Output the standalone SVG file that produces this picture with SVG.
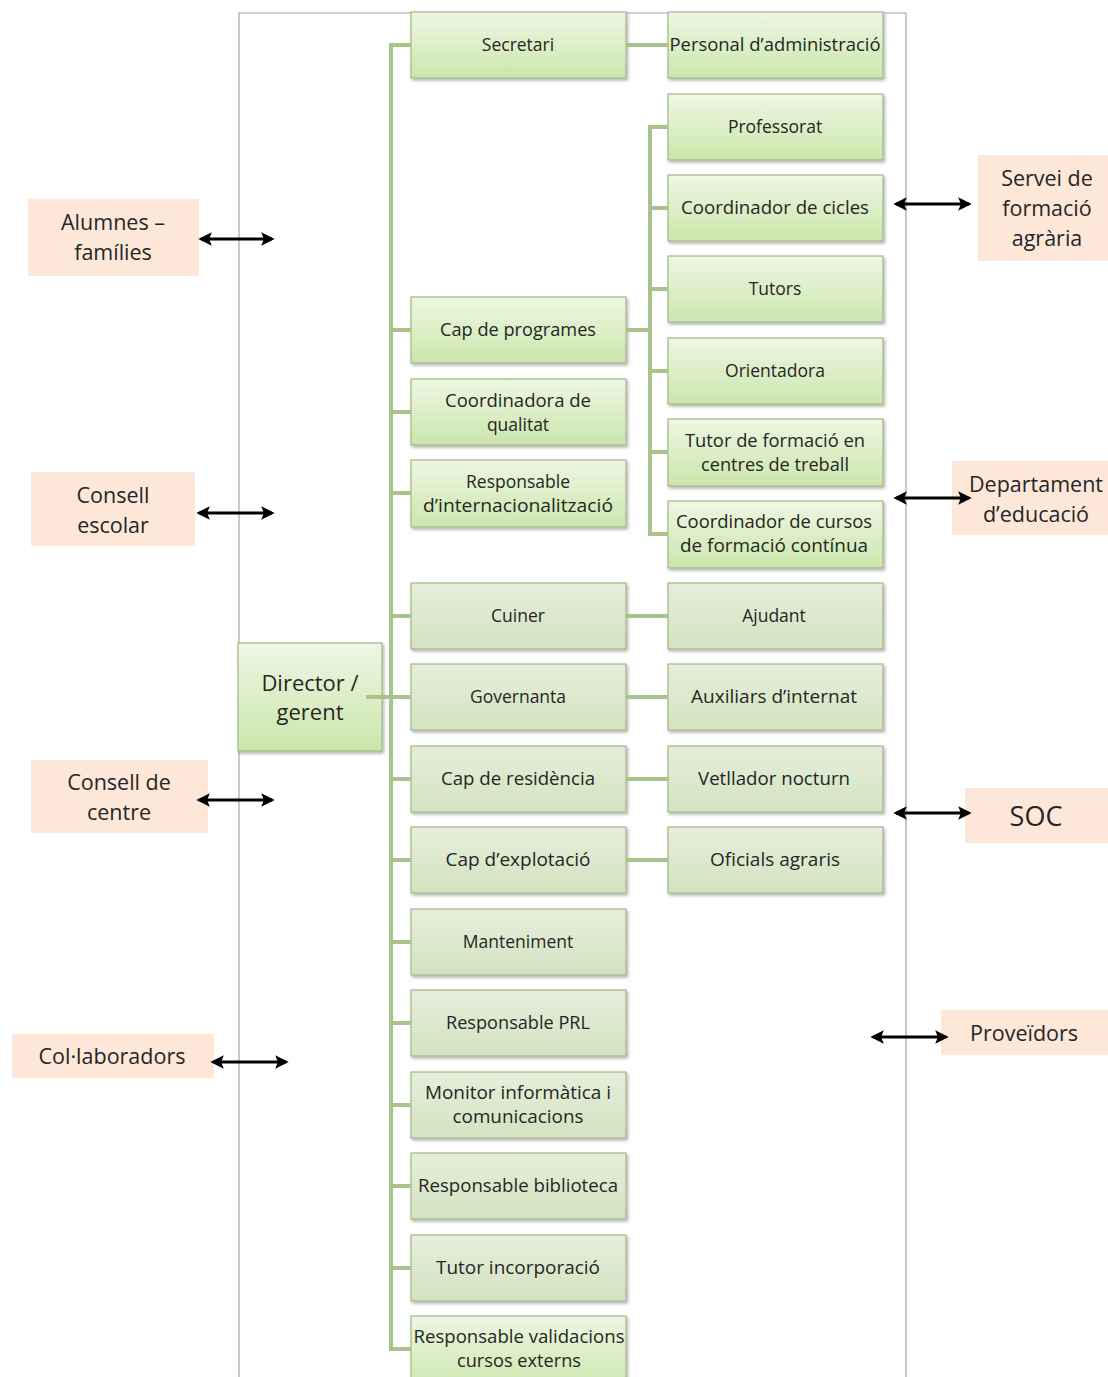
<svg xmlns="http://www.w3.org/2000/svg" width="1108" height="1377" viewBox="0 0 1108 1377">
<style>
.t{font-family:"Open Sans","Liberation Sans",sans-serif;font-size:17.5px;fill:#262626;text-anchor:middle}
.tb{font-family:"Open Sans","Liberation Sans",sans-serif;font-size:21.5px;fill:#262626;text-anchor:middle}
.box{stroke:#9fb887;stroke-width:1.2;filter:url(#sh)}
.b1{fill:url(#g1)}
.b2{fill:url(#g2)}
.ext{fill:#fce7d9}
.ln{stroke:#a9c38c;stroke-width:4;fill:none}
.ar{stroke:#000;stroke-width:3;marker-start:url(#ah);marker-end:url(#ah)}
.frame{stroke:#a6a6a6;stroke-width:1.2;fill:none}
</style>
<defs>
<linearGradient id="g1" x1="0" y1="0" x2="0" y2="1"><stop offset="0" stop-color="#eef7e3"/><stop offset="1" stop-color="#cbe6ac"/></linearGradient>
<linearGradient id="g2" x1="0" y1="0" x2="0" y2="1"><stop offset="0" stop-color="#e6eedb"/><stop offset="1" stop-color="#d3e3c0"/></linearGradient>
<filter id="sh" x="-5%" y="-5%" width="115%" height="125%"><feDropShadow dx="1.5" dy="2" stdDeviation="1.5" flood-color="#000" flood-opacity="0.3"/></filter>
<marker id="ah" viewBox="0 0 10 10" refX="8" refY="5" markerWidth="4.5" markerHeight="4.5" orient="auto-start-reverse"><path d="M0,0 L10,5 L0,10 L2,5 z" fill="#000"/></marker>
</defs>
<rect width="1108" height="1377" fill="#fff"/>
<path class="frame" d="M239,1377 V13 H906 V1377"/>
<g id="director"><rect class="box b1" x="238" y="643" width="144" height="108"/><text class="tb" x="310" y="691" style="font-size:22px">Director /</text><text class="tb" x="310" y="720" style="font-size:22px">gerent</text></g>
<g id="secretari"><rect class="box b1" x="411" y="12" width="215" height="66"/><text class="t" x="518" y="51">Secretari</text></g>
<g id="personal-admin"><rect class="box b1" x="668" y="12" width="215" height="66"/><text class="t" x="775" y="51" textLength="211" lengthAdjust="spacingAndGlyphs">Personal d’administració</text></g>
<g id="professorat"><rect class="box b1" x="668" y="94" width="215" height="66"/><text class="t" x="775" y="133">Professorat</text></g>
<g id="coord-cicles"><rect class="box b1" x="668" y="175" width="215" height="66"/><text class="t" x="775" y="214" textLength="188" lengthAdjust="spacingAndGlyphs">Coordinador de cicles</text></g>
<g id="tutors"><rect class="box b1" x="668" y="256" width="215" height="66"/><text class="t" x="775" y="295">Tutors</text></g>
<g id="orientadora"><rect class="box b1" x="668" y="338" width="215" height="66"/><text class="t" x="775" y="377">Orientadora</text></g>
<g id="tutor-fct"><rect class="box b1" x="668" y="419" width="215" height="67"/><text class="t" x="775" y="447" textLength="180" lengthAdjust="spacingAndGlyphs">Tutor de formació en</text><text class="t" x="775" y="471" textLength="148" lengthAdjust="spacingAndGlyphs">centres de treball</text></g>
<g id="coord-cursos"><rect class="box b1" x="668" y="501" width="215" height="67"/><text class="t" x="774" y="528" textLength="196" lengthAdjust="spacingAndGlyphs">Coordinador de cursos</text><text class="t" x="774" y="552" textLength="188" lengthAdjust="spacingAndGlyphs">de formació contínua</text></g>
<g id="cap-programes"><rect class="box b1" x="411" y="297" width="215" height="66"/><text class="t" x="518" y="336" textLength="156" lengthAdjust="spacingAndGlyphs">Cap de programes</text></g>
<g id="coord-qualitat"><rect class="box b1" x="411" y="379" width="215" height="66"/><text class="t" x="518" y="407" textLength="146" lengthAdjust="spacingAndGlyphs">Coordinadora de</text><text class="t" x="518" y="431">qualitat</text></g>
<g id="resp-intl"><rect class="box b1" x="411" y="460" width="215" height="67"/><text class="t" x="518" y="488">Responsable</text><text class="t" x="518" y="512" textLength="190" lengthAdjust="spacingAndGlyphs">d’internacionalització</text></g>
<g id="cuiner"><rect class="box b2" x="411" y="583" width="215" height="66"/><text class="t" x="518" y="622">Cuiner</text></g>
<g id="ajudant"><rect class="box b2" x="668" y="583" width="215" height="66"/><text class="t" x="774" y="622">Ajudant</text></g>
<g id="governanta"><rect class="box b2" x="411" y="664" width="215" height="66"/><text class="t" x="518" y="703">Governanta</text></g>
<g id="auxiliars"><rect class="box b2" x="668" y="664" width="215" height="66"/><text class="t" x="774" y="703" textLength="166" lengthAdjust="spacingAndGlyphs">Auxiliars d’internat</text></g>
<g id="cap-residencia"><rect class="box b2" x="411" y="746" width="215" height="66"/><text class="t" x="518" y="785" textLength="154" lengthAdjust="spacingAndGlyphs">Cap de residència</text></g>
<g id="vetllador"><rect class="box b2" x="668" y="746" width="215" height="66"/><text class="t" x="774" y="785" textLength="152" lengthAdjust="spacingAndGlyphs">Vetllador nocturn</text></g>
<g id="cap-explotacio"><rect class="box b2" x="411" y="827" width="215" height="66"/><text class="t" x="518" y="866" textLength="145" lengthAdjust="spacingAndGlyphs">Cap d’explotació</text></g>
<g id="oficials"><rect class="box b2" x="668" y="827" width="215" height="66"/><text class="t" x="775" y="866" textLength="130" lengthAdjust="spacingAndGlyphs">Oficials agraris</text></g>
<g id="manteniment"><rect class="box b2" x="411" y="909" width="215" height="66"/><text class="t" x="518" y="948">Manteniment</text></g>
<g id="resp-prl"><rect class="box b2" x="411" y="990" width="215" height="66"/><text class="t" x="518" y="1029" textLength="144" lengthAdjust="spacingAndGlyphs">Responsable PRL</text></g>
<g id="monitor"><rect class="box b2" x="411" y="1072" width="215" height="66"/><text class="t" x="518" y="1099" textLength="186" lengthAdjust="spacingAndGlyphs">Monitor informàtica i</text><text class="t" x="518" y="1123" textLength="131" lengthAdjust="spacingAndGlyphs">comunicacions</text></g>
<g id="resp-biblioteca"><rect class="box b2" x="411" y="1153" width="215" height="66"/><text class="t" x="518" y="1192" textLength="200" lengthAdjust="spacingAndGlyphs">Responsable biblioteca</text></g>
<g id="tutor-incorporacio"><rect class="box b2" x="411" y="1235" width="215" height="66"/><text class="t" x="518" y="1274" textLength="164" lengthAdjust="spacingAndGlyphs">Tutor incorporació</text></g>
<g id="resp-validacions"><rect class="box b1" x="411" y="1316" width="215" height="75"/><text class="t" x="519" y="1343" textLength="211" lengthAdjust="spacingAndGlyphs">Responsable validacions</text><text class="t" x="519" y="1367" textLength="124" lengthAdjust="spacingAndGlyphs">cursos externs</text></g>
<g id="alumnes"><rect class="ext" x="28" y="199" width="171" height="77"/><text class="tb" x="113" y="230">Alumnes –</text><text class="tb" x="113" y="260">famílies</text></g>
<g id="consell-escolar"><rect class="ext" x="31" y="472" width="164" height="74"/><text class="tb" x="113" y="503">Consell</text><text class="tb" x="113" y="533">escolar</text></g>
<g id="consell-centre"><rect class="ext" x="31" y="760" width="177" height="73"/><text class="tb" x="119" y="790">Consell de</text><text class="tb" x="119" y="820">centre</text></g>
<g id="collaboradors"><rect class="ext" x="12" y="1034" width="202" height="44"/><text class="tb" x="112" y="1064">Col·laboradors</text></g>
<g id="servei"><rect class="ext" x="978" y="155" width="130" height="106"/><text class="tb" x="1047" y="186">Servei de</text><text class="tb" x="1047" y="216">formació</text><text class="tb" x="1047" y="246">agrària</text></g>
<g id="departament"><rect class="ext" x="952" y="461" width="156" height="74"/><text class="tb" x="1036" y="492">Departament</text><text class="tb" x="1036" y="522">d’educació</text></g>
<g id="soc"><rect class="ext" x="965" y="788" width="143" height="55"/><text class="tb" x="1036" y="826" style="font-size:27px">SOC</text></g>
<g id="proveidors"><rect class="ext" x="941" y="1010" width="167" height="45"/><text class="tb" x="1024" y="1041">Proveïdors</text></g>
<g id="connectors">
<path class="ln" d="M411,45 H391 V1349 H411"/>
<path class="ln" d="M366,697 H411"/>
<path class="ln" d="M391,330 H411 M391,412 H411 M391,493 H411 M391,616 H411 M391,779 H411 M391,860 H411 M391,942 H411 M391,1023 H411 M391,1105 H411 M391,1186 H411 M391,1268 H411"/>
<path class="ln" d="M626,45 H668 M626,616 H668 M626,697 H668 M626,779 H668 M626,860 H668"/>
<path class="ln" d="M626,330 H650 M668,127 H650 V534 H668 M650,208 H668 M650,289 H668 M650,371 H668 M650,452 H668"/>
<line class="ar" x1="201" y1="239" x2="272" y2="239"/>
<line class="ar" x1="199" y1="513" x2="272" y2="513"/>
<line class="ar" x1="199" y1="800" x2="272" y2="800"/>
<line class="ar" x1="213" y1="1062" x2="286" y2="1062"/>
<line class="ar" x1="896" y1="204" x2="969" y2="204"/>
<line class="ar" x1="896" y1="498" x2="969" y2="498"/>
<line class="ar" x1="896" y1="813" x2="969" y2="813"/>
<line class="ar" x1="873" y1="1037" x2="946" y2="1037"/>
</g>
</svg>
